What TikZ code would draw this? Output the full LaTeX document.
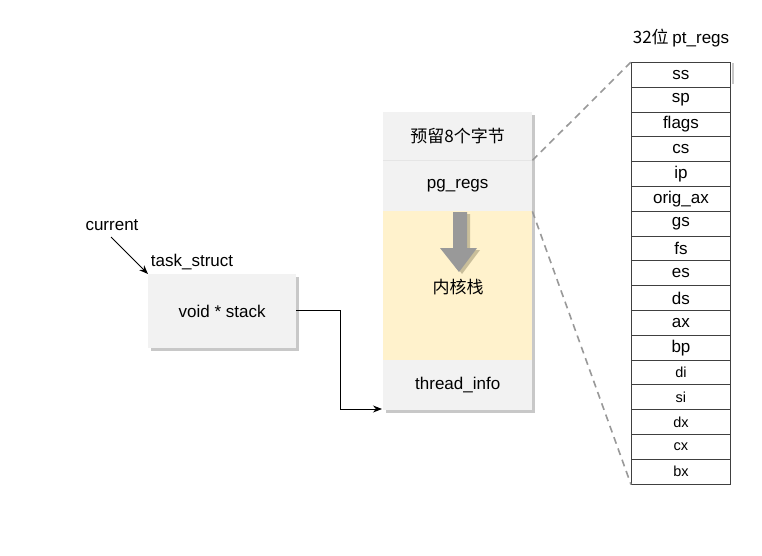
\documentclass[tikz,border=0pt]{standalone}
\usepackage{fontspec}
\setmainfont{Liberation Sans}
\newfontfamily\cjk{Noto Sans CJK SC}
\usetikzlibrary{arrows.meta}
\definecolor{boxgray}{HTML}{F2F2F2}
\definecolor{stackyellow}{HTML}{FFF2CC}
\definecolor{shadowgray}{HTML}{C8C8C8}
\definecolor{arrowgray}{HTML}{999999}
\definecolor{arrowshadow}{HTML}{C9BE9A}
\definecolor{dashgray}{HTML}{999999}
\tikzset{
  sec/.style={draw=none, fill=boxgray, minimum width=149pt, inner sep=0pt, font=\fontsize{17}{20}\selectfont},
  reg/.style={draw=black!75, line width=0.9pt, fill=white, minimum width=99pt, minimum height=24.8pt, inner sep=0pt, font=\fontsize{17}{20}\selectfont},
  regs/.style={reg, font=\fontsize{14.5}{17}\selectfont},
  lbl/.style={inner sep=0pt, font=\fontsize{17}{20}\selectfont},
  conn/.style={draw=black, line width=0.9pt, -{Stealth[length=9pt,width=7pt]}},
  dashl/.style={draw=dashgray, line width=1.6pt, dash pattern=on 7pt off 5pt}
}
\begin{document}
\begin{tikzpicture}[x=1pt,y=-1pt]
\useasboundingbox (0,0) rectangle (762,556);
\fill[white] (0,0) rectangle (762,556);
% stack column shadow
\fill[shadowgray] (386,115) rectangle (535,413);
% stack sections
\node[sec, minimum height=48pt, anchor=north west] (res) at (383,112) {\cjk 预留8个字节};
\node[sec, minimum height=51pt, anchor=north west] (pg) at (383,160) {pg\_regs};
\node[sec, fill=stackyellow, minimum height=149pt, anchor=north west] (ks) at (383,211) {};
\node[sec, minimum height=50pt, anchor=north west] (ti) at (383,360) {thread\_info};
\draw[white!90!black, line width=0.6pt] (res.south west) -- (res.south east);
% big arrow
\fill[arrowshadow] (456,214) -- (470,214) -- (470,250) -- (480,250) -- (462,274) -- (444,250) -- (456,250) -- cycle;
\fill[arrowgray] (453,212) -- (467,212) -- (467,248) -- (477,248) -- (459,272) -- (440,248) -- (453,248) -- cycle;
\node[lbl] (kslbl) at (458,287) {\cjk 内核栈};
% task_struct
\fill[shadowgray] (151,277) rectangle (299,351);
\node[sec, minimum width=148pt, minimum height=74pt, anchor=north west] (ts) at (148,274) {void * stack};
\node[lbl] (tslbl) at (192,262) {task\_struct};
\node[lbl] (cur) at (112,225) {current};
\coordinate (curS) at (111,237);
\draw[conn] (curS) -- (ts.north west);
\coordinate (tsR) at (296,310);
\coordinate (tiL) at (382,409);
\draw[conn] (tsR) -- (340,310) |- (tiL);
% registers
\node[lbl] (title) at (681,38) {\cjk 32位\ \rmfamily pt\_regs};
\foreach \n [count=\i from 0] in {ss,sp,flags,cs,ip,orig\_ax,gs,fs,es,ds,ax,bp}{
  \node[reg, anchor=north west] (r\i) at (631,62+24.8*\i) {\n};
}
\foreach \n [count=\i from 12] in {di,si,dx,cx,bx}{
  \node[regs, anchor=north west] (r\i) at (631,62+24.8*\i) {\n};
}
\fill[shadowgray] (731.5,63) rectangle (733.5,84);
% dashed connectors
\draw[dashl] (res.south east) -- (r0.north west);
\draw[dashl] (pg.south east) -- (r16.south west);
\end{tikzpicture}
\end{document}
